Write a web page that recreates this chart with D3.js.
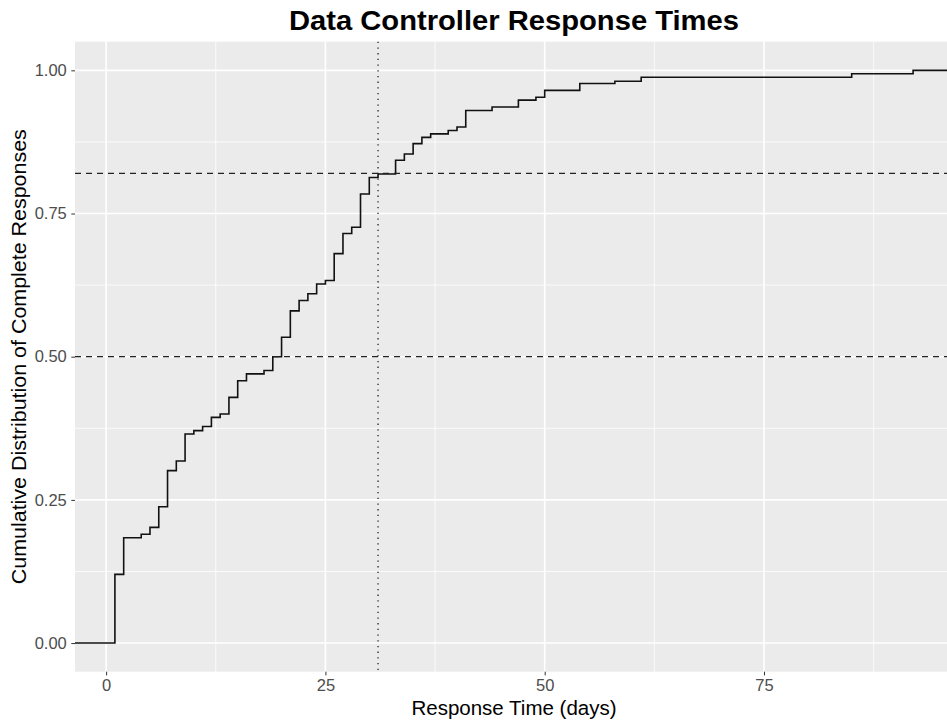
<!DOCTYPE html>
<html>
<head>
<meta charset="utf-8">
<script src="https://cdn.jsdelivr.net/npm/d3@7"></script>
<style>
  html, body { margin: 0; padding: 0; background: #ffffff; }
  svg { display: block; font-family: "Liberation Sans", Arial, Helvetica, sans-serif; }
</style>
</head>
<body>
<svg id="chart" width="947" height="722"></svg>
<script>
// ---- Data ----
const responseDays = [1, 2, 4, 5, 6, 7, 8, 9, 10, 11, 12, 13, 14, 15, 16, 18, 19, 20, 21, 22, 23, 24, 25, 26, 27, 28, 29, 30, 31, 33, 34, 35, 36, 37, 39, 40, 41, 44, 47, 49, 50, 54, 58, 61, 85, 92];
const cumulativeShare = [0.120, 0.184, 0.190, 0.202, 0.238, 0.301, 0.318, 0.365, 0.371, 0.378, 0.394, 0.400, 0.429, 0.458, 0.470, 0.476, 0.500, 0.534, 0.580, 0.598, 0.610, 0.627, 0.633, 0.680, 0.715, 0.726, 0.784, 0.813, 0.819, 0.843, 0.854, 0.872, 0.883, 0.889, 0.895, 0.901, 0.930, 0.936, 0.948, 0.953, 0.965, 0.977, 0.981, 0.988, 0.994, 1.000];
const hLines = [0.5, 0.82];
const vLines = [31];
const xTicks = [0, 25, 50, 75];
const xMinorTicks = [12.5, 37.5, 62.5, 87.5];
const yTicks = [0, 0.25, 0.5, 0.75, 1.0];
const yTickLabels = ["0.00", "0.25", "0.50", "0.75", "1.00"];
const yMinorTicks = [0.125, 0.375, 0.625, 0.875];
const titleText = "Data Controller Response Times";
const xTitle = "Response Time (days)";
const yTitle = "Cumulative Distribution of Complete Responses";

// ---- Layout ----
const panel = { left: 75, top: 41.7, right: 953, bottom: 671.7 };
const svg = d3.select("#chart");

const xMin = d3.min(responseDays), xMax = d3.max(responseDays);
const xPad = (xMax - xMin) * 0.05;
const x = d3.scaleLinear().domain([xMin - xPad, xMax + xPad]).range([panel.left, panel.right]);
const y = d3.scaleLinear().domain([-0.05, 1.05]).range([panel.bottom, panel.top]);

// Panel background
svg.append("rect")
  .attr("x", panel.left).attr("y", panel.top)
  .attr("width", panel.right - panel.left).attr("height", panel.bottom - panel.top)
  .attr("fill", "#EBEBEB");

const grid = svg.append("g");
// minor grid
grid.selectAll(".xminor").data(xMinorTicks).join("line")
  .attr("x1", d => x(d)).attr("x2", d => x(d))
  .attr("y1", panel.top).attr("y2", panel.bottom)
  .attr("stroke", "#fff").attr("stroke-width", 0.8);
grid.selectAll(".yminor").data(yMinorTicks).join("line")
  .attr("x1", panel.left).attr("x2", panel.right)
  .attr("y1", d => y(d)).attr("y2", d => y(d))
  .attr("stroke", "#fff").attr("stroke-width", 0.8);
// major grid
grid.selectAll(".xmajor").data(xTicks).join("line")
  .attr("x1", d => x(d)).attr("x2", d => x(d))
  .attr("y1", panel.top).attr("y2", panel.bottom)
  .attr("stroke", "#fff").attr("stroke-width", 1.6);
grid.selectAll(".ymajor").data(yTicks).join("line")
  .attr("x1", panel.left).attr("x2", panel.right)
  .attr("y1", d => y(d)).attr("y2", d => y(d))
  .attr("stroke", "#fff").attr("stroke-width", 1.6);

// ECDF step line
const [dLo, dHi] = x.domain();
const pts = [[dLo, 0]].concat(responseDays.map((d, i) => [d, cumulativeShare[i]])).concat([[dHi, cumulativeShare[cumulativeShare.length - 1]]]);
const line = d3.line().x(d => x(d[0])).y(d => y(d[1])).curve(d3.curveStepAfter);
svg.append("path")
  .attr("d", line(pts))
  .attr("fill", "none")
  .attr("stroke", "#111")
  .attr("stroke-width", 1.6);

// Reference lines
svg.selectAll(".hline").data(hLines).join("line")
  .attr("x1", panel.left).attr("x2", panel.right)
  .attr("y1", d => y(d)).attr("y2", d => y(d))
  .attr("stroke", "#222").attr("stroke-width", 1.3)
  .attr("stroke-dasharray", "6,5");
svg.selectAll(".vline").data(vLines).join("line")
  .attr("x1", d => x(d)).attr("x2", d => x(d))
  .attr("y1", panel.top).attr("y2", panel.bottom)
  .attr("stroke", "#222").attr("stroke-width", 1.3)
  .attr("stroke-dasharray", "1.3,4.4");

// Axes
const xAxis = d3.axisBottom(x).tickValues(xTicks).tickSize(3.7).tickPadding(3).tickFormat(d3.format("d"));
const gx = svg.append("g").attr("transform", `translate(0,${panel.bottom})`).call(xAxis);
gx.select(".domain").remove();
gx.selectAll(".tick line").attr("stroke", "#333").attr("stroke-width", 1);
gx.selectAll(".tick text").attr("fill", "#4D4D4D").attr("font-size", "16.5px")
  .attr("font-family", "'Liberation Sans', Arial, sans-serif").attr("dy", null).attr("y", 19);

const yAxis = d3.axisLeft(y).tickValues(yTicks).tickSize(3.7).tickPadding(4.5).tickFormat((d, i) => yTickLabels[i]);
const gy = svg.append("g").attr("transform", `translate(${panel.left},0)`).call(yAxis);
gy.select(".domain").remove();
gy.selectAll(".tick line").attr("stroke", "#333").attr("stroke-width", 1);
gy.selectAll(".tick text").attr("fill", "#4D4D4D").attr("font-size", "16.5px")
  .attr("font-family", "'Liberation Sans', Arial, sans-serif");

// Titles
const cx = (panel.left + panel.right) / 2;
svg.append("text")
  .attr("x", cx).attr("y", 30)
  .attr("text-anchor", "middle")
  .attr("font-size", "27.5px").attr("font-weight", "bold").attr("fill", "#000")
  .attr("textLength", 450).attr("lengthAdjust", "spacingAndGlyphs")
  .text(titleText);
svg.append("text")
  .attr("x", cx).attr("y", 715)
  .attr("text-anchor", "middle")
  .attr("font-size", "20.5px").attr("fill", "#000")
  .text(xTitle);
svg.append("text")
  .attr("transform", `translate(26,${(panel.top + panel.bottom) / 2}) rotate(-90)`)
  .attr("text-anchor", "middle")
  .attr("font-size", "21px").attr("fill", "#000")
  .attr("textLength", 455).attr("lengthAdjust", "spacingAndGlyphs")
  .text(yTitle);
</script>
</body>
</html>
